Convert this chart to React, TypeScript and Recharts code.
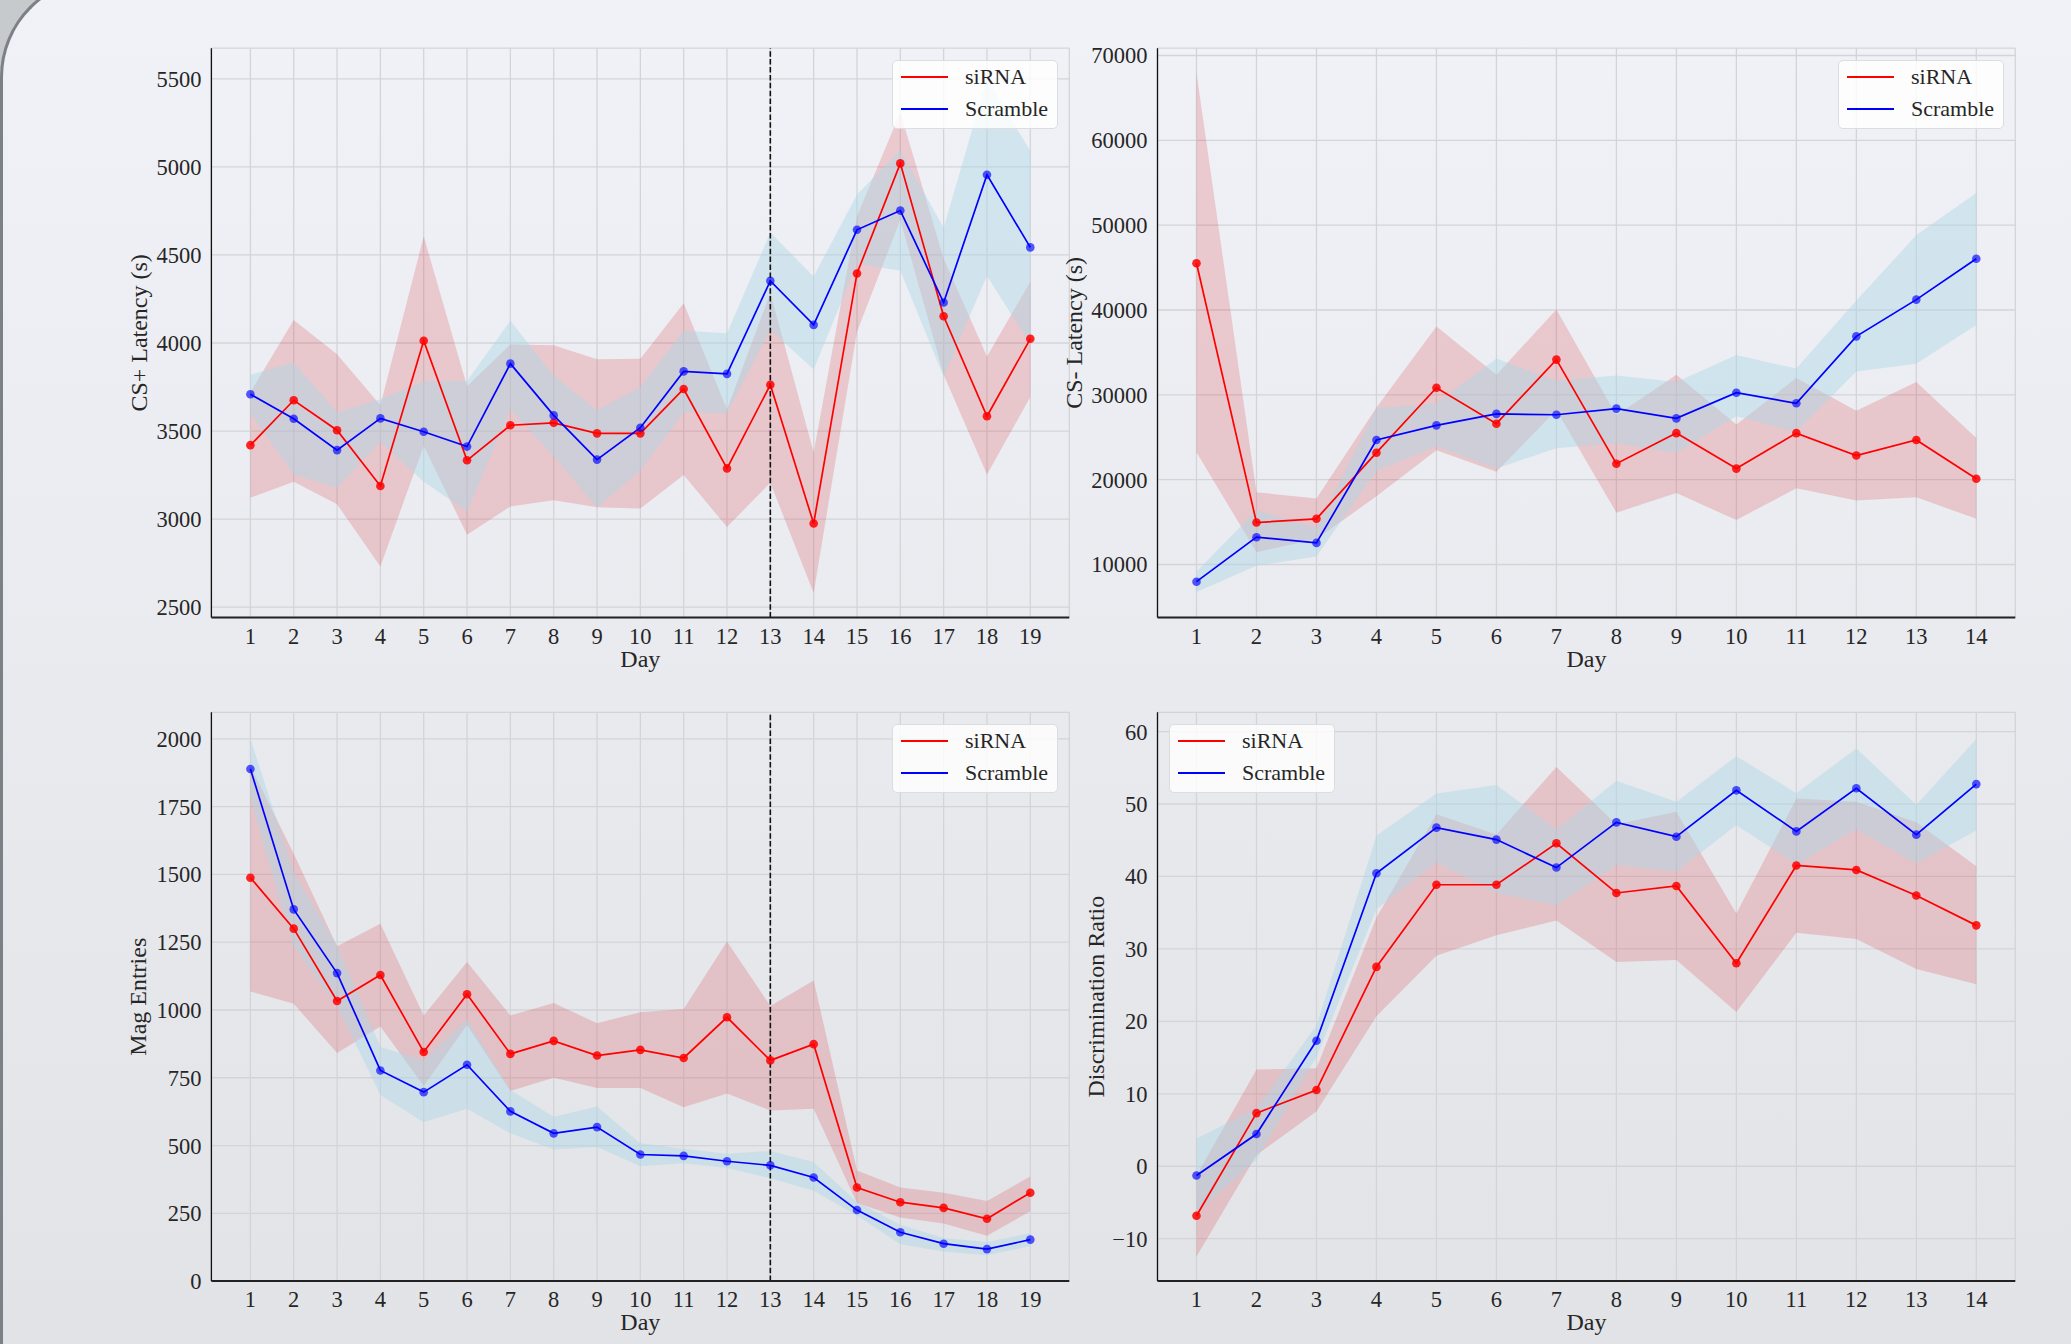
import React from 'react';
import { ComposedChart, Line, Area, XAxis, YAxis, CartesianGrid, ReferenceLine } from 'recharts';

const FONT = '"Liberation Serif", "Times New Roman", Times, serif';
const TXT = '#262626';

// ---------- Data ----------
const days19 = [1, 2, 3, 4, 5, 6, 7, 8, 9, 10, 11, 12, 13, 14, 15, 16, 17, 18, 19];
const days14 = [1, 2, 3, 4, 5, 6, 7, 8, 9, 10, 11, 12, 13, 14];

// CS+ Latency (s)
const csPlusSirnaMean = [3420, 3675, 3505, 3188, 4013, 3334, 3533, 3547, 3487, 3487, 3739, 3288, 3763, 2975, 4395, 5020, 4152, 3584, 4024];
const csPlusSirnaLo = [3121, 3213, 3084, 2731, 3415, 2912, 3072, 3107, 3067, 3060, 3250, 2956, 3206, 2581, 4064, 4700, 3820, 3253, 3693];
const csPlusSirnaHi = [3720, 4131, 3936, 3646, 4606, 3755, 3992, 3987, 3908, 3911, 4226, 3623, 4284, 3380, 4720, 5310, 4480, 3924, 4348];
const csPlusScrMean = [3709, 3570, 3392, 3572, 3496, 3412, 3883, 3589, 3338, 3519, 3839, 3825, 4353, 4103, 4643, 4752, 4230, 4955, 4543];
const csPlusScrLo = [3600, 3253, 3179, 3438, 3213, 3044, 3623, 3357, 3067, 3276, 3607, 3600, 4075, 3850, 4450, 4411, 3809, 4381, 3994];
const csPlusScrHi = [3820, 3890, 3607, 3681, 3783, 3785, 4126, 3816, 3619, 3751, 4070, 4056, 4627, 4378, 4844, 5095, 4655, 5500, 5090];

// CS- Latency (s)
const csMinusSirnaMean = [45507, 14951, 15384, 23179, 30830, 26596, 34151, 21880, 25489, 21303, 25489, 22842, 24671, 20102];
const csMinusSirnaLo = [23227, 11438, 13000, 18030, 23468, 20918, 28200, 16106, 18416, 15240, 18993, 17549, 17934, 15384];
const csMinusSirnaHi = [67979, 18512, 17790, 28519, 38048, 32370, 40070, 27600, 32370, 26500, 31985, 28136, 31504, 24912];
const csMinusScrMean = [7973, 13218, 12545, 24671, 26403, 27750, 27654, 28376, 27221, 30253, 29002, 36893, 41224, 46036];
const csMinusScrLo = [6770, 9850, 10956, 21062, 23948, 21303, 23709, 24286, 23131, 27462, 25634, 32755, 33670, 38240];
const csMinusScrHi = [9176, 16393, 14325, 28424, 29002, 34295, 31648, 32274, 31504, 34680, 33092, 41128, 48827, 53784];

// Mag Entries
const magSirnaMean = [1488, 1300, 1033, 1129, 845, 1058, 838, 886, 832, 853, 823, 973, 814, 874, 345, 291, 270, 230, 326];
const magSirnaLo = [1068, 1023, 841, 939, 720, 945, 701, 750, 712, 712, 641, 692, 629, 636, 288, 235, 212, 167, 258];
const magSirnaHi = [1900, 1576, 1235, 1318, 980, 1177, 980, 1026, 951, 992, 1004, 1253, 1015, 1109, 408, 345, 326, 295, 386];
const magScrMean = [1889, 1371, 1136, 777, 697, 798, 626, 545, 568, 467, 462, 442, 427, 382, 262, 180, 138, 118, 153];
const magScrLo = [1778, 1235, 1015, 686, 586, 636, 545, 485, 495, 424, 435, 417, 379, 333, 242, 136, 109, 95, 129];
const magScrHi = [2000, 1508, 1238, 864, 814, 965, 705, 606, 644, 508, 488, 470, 480, 439, 292, 208, 159, 144, 177];

// Discrimination Ratio
const drSirnaMean = [-6.83, 7.34, 10.52, 27.52, 38.86, 38.86, 44.58, 37.72, 38.69, 28.03, 41.52, 40.9, 37.38, 33.25];
const drSirnaLo = [-12.44, 1.56, 7.57, 20.72, 29.05, 31.88, 33.92, 28.2, 28.47, 21.28, 32.22, 31.37, 27.23, 25.13];
const drSirnaHi = [-1.3, 13.35, 13.52, 34.32, 48.6, 45.8, 55.12, 47.2, 48.94, 34.88, 50.75, 50.3, 47.47, 41.41];
const drScrMean = [-1.27, 4.45, 17.32, 40.44, 46.74, 45.09, 41.23, 47.47, 45.49, 51.89, 46.22, 52.18, 45.77, 52.75];
const drScrLo = [-6.4, 0.9, 15.1, 35.46, 41.97, 37.72, 36.02, 41.58, 40.67, 47.08, 41.7, 46.5, 41.8, 46.33];
const drScrHi = [3.83, 8.0, 19.42, 45.66, 51.44, 52.63, 46.5, 53.2, 50.3, 56.6, 51.5, 57.68, 49.9, 58.98];

// Tick labels
const ticksCsPlus = [2500, 3000, 3500, 4000, 4500, 5000, 5500];
const ticksCsMinus = [10000, 20000, 30000, 40000, 50000, 60000, 70000];
const ticksMag = [0, 250, 500, 750, 1000, 1250, 1500, 1750, 2000];
const ticksDr = [-10, 0, 10, 20, 30, 40, 50, 60];

const seriesNames = ['siRNA', 'Scramble'];

function buildRows(days: number[], sm: number[], sl: number[], sh: number[], cm: number[], cl: number[], ch: number[]) {
  return days.map((d, i) => ({
    day: d,
    sMean: sm[i],
    sBand: [sl[i], sh[i]],
    cMean: cm[i],
    cBand: [cl[i], ch[i]],
  }));
}

// ---------- Layout ----------
const COLS = [
  { divLeft: 0, plotL: 211.4, plotR: 1069.3 },
  { divLeft: 1030, plotL: 1157.5, plotR: 2015.3 },
];
const ROWS = [
  { divTop: 0, plotT: 48.2, plotB: 617.6 },
  { divTop: 680, plotT: 712.3, plotB: 1281.1 },
];

type PanelProps = {
  col: number;
  row: number;
  rows: any[];
  xDomain: [number, number];
  xTicks: number[];
  yDomain: [number, number];
  yTicks: number[];
  yLabel: string;
  yLabelX: number;
  vline?: number;
  legendLeft: number;
};

const fmt = (v: number) => (v < 0 ? '\u2212' + Math.abs(v) : String(v));

function Legend2({ left, top }: { left: number; top: number }) {
  const colors = ['#ff0000', '#0000ff'];
  const rowsY = [16, 48];
  return (
    <div
      style={{
        position: 'absolute',
        left: Math.round(left),
        top: Math.round(top),
        width: 166,
        height: 69,
        boxSizing: 'border-box',
        background: 'rgba(255,255,255,0.82)',
        border: '1px solid #dcdde0',
        borderRadius: 5,
        fontFamily: FONT,
        fontSize: 22,
        color: TXT,
      }}
    >
      {seriesNames.map((n, i) => (
        <React.Fragment key={n}>
          <div
            style={{
              position: 'absolute',
              left: 8,
              top: rowsY[i] - 1,
              width: 47,
              height: 2,
              background: colors[i],
            }}
          />
          <span
            style={{
              position: 'absolute',
              left: 72,
              top: rowsY[i] - 11,
              lineHeight: '22px',
              whiteSpace: 'nowrap',
            }}
          >
            {n}
          </span>
        </React.Fragment>
      ))}
    </div>
  );
}

function Panel(p: PanelProps) {
  const c = COLS[p.col];
  const r = ROWS[p.row];
  const rightM = 20;
  const xh = 60;
  const width = c.plotR - c.divLeft + rightM;
  const height = r.plotB - r.divTop + xh;
  const yw = c.plotL - c.divLeft;
  const mt = r.plotT - r.divTop;
  const plotCx = (c.plotL + c.plotR) / 2 - c.divLeft;
  const plotCy = (r.plotT + r.plotB) / 2 - r.divTop;
  const labX = p.yLabelX - c.divLeft;
  const dayY = r.plotB - r.divTop + 49;

  return (
    <div style={{ position: 'absolute', left: c.divLeft, top: r.divTop, width, height }}>
      <ComposedChart
        width={width}
        height={height}
        data={p.rows}
        margin={{ top: mt, right: rightM, bottom: 0, left: 0 }}
      >
        <CartesianGrid stroke="#d3d4d8" strokeWidth={1.3} />
        <XAxis
          dataKey="day"
          type="number"
          domain={p.xDomain}
          ticks={p.xTicks}
          interval={0}
          allowDataOverflow
          tickLine={false}
          tickSize={8}
          tickMargin={2}
          height={xh}
          axisLine={{ stroke: '#222', strokeWidth: 2 }}
          tick={{ fontSize: 22.5, fill: TXT, fontFamily: FONT }}
          label={{
            content: () => (
              <text x={plotCx} y={dayY} textAnchor="middle" fontSize={24} fill={TXT} fontFamily={FONT}>
                Day
              </text>
            ),
          }}
        />
        <YAxis
          type="number"
          domain={p.yDomain}
          ticks={p.yTicks}
          interval={0}
          allowDataOverflow
          width={yw}
          tickLine={false}
          tickSize={8}
          tickMargin={2}
          tickFormatter={fmt}
          axisLine={{ stroke: '#111', strokeWidth: 1.3 }}
          tick={{ fontSize: 22.5, fill: TXT, fontFamily: FONT }}
          label={{
            content: () => (
              <text
                x={labX}
                y={plotCy}
                textAnchor="middle"
                fontSize={24}
                fill={TXT}
                fontFamily={FONT}
                transform={`rotate(-90, ${labX}, ${plotCy})`}
              >
                {p.yLabel}
              </text>
            ),
          }}
        />
        <Area
          dataKey="sBand"
          type="linear"
          stroke="none"
          fill="#d62728"
          fillOpacity={0.19}
          isAnimationActive={false}
          dot={false}
          activeDot={false}
        />
        <Area
          dataKey="cBand"
          type="linear"
          stroke="none"
          fill="#add8e6"
          fillOpacity={0.45}
          isAnimationActive={false}
          dot={false}
          activeDot={false}
        />
        <Line
          dataKey="sMean"
          type="linear"
          stroke="#ff0000"
          strokeWidth={1.7}
          dot={{ r: 4.3, fill: '#ff0000', fillOpacity: 0.85, stroke: 'none' }}
          activeDot={false}
          isAnimationActive={false}
        />
        <Line
          dataKey="cMean"
          type="linear"
          stroke="#0000ff"
          strokeWidth={1.7}
          dot={{ r: 4.3, fill: '#0000ff', fillOpacity: 0.65, stroke: 'none' }}
          activeDot={false}
          isAnimationActive={false}
        />
        {p.vline !== undefined && (
          <ReferenceLine x={p.vline} stroke="#111" strokeWidth={1.6} strokeDasharray="5.5 2.4" />
        )}
      </ComposedChart>
      <Legend2 left={p.legendLeft - c.divLeft} top={r.plotT - r.divTop + 12.2} />
    </div>
  );
}

export default function App() {
  const rows1 = buildRows(days19, csPlusSirnaMean, csPlusSirnaLo, csPlusSirnaHi, csPlusScrMean, csPlusScrLo, csPlusScrHi);
  const rows2 = buildRows(days14, csMinusSirnaMean, csMinusSirnaLo, csMinusSirnaHi, csMinusScrMean, csMinusScrLo, csMinusScrHi);
  const rows3 = buildRows(days19, magSirnaMean, magSirnaLo, magSirnaHi, magScrMean, magScrLo, magScrHi);
  const rows4 = buildRows(days14, drSirnaMean, drSirnaLo, drSirnaHi, drScrMean, drScrLo, drScrHi);

  return (
    <div
      style={{
        position: 'absolute',
        left: 0,
        top: 0,
        width: 2071,
        height: 1344,
        overflow: 'hidden',
        background: '#c7cacd',
      }}
    >
      <div
        style={{
          position: 'absolute',
          left: 0,
          top: -23,
          width: 2400,
          height: 1500,
          boxSizing: 'border-box',
          borderLeft: '3px solid #7c8087',
          borderTop: '3px solid #7c8087',
          borderTopLeftRadius: 100,
          background: 'linear-gradient(180deg, #f1f2f7 23px, #e2e3e7 1367px, #e2e3e7 1500px)',
        }}
      />
      <Panel
        col={0}
        row={0}
        rows={rows1}
        xDomain={[0.1, 19.9]}
        xTicks={days19}
        yDomain={[2441, 5674]}
        yTicks={ticksCsPlus}
        yLabel="CS+ Latency (s)"
        yLabelX={146.8}
        vline={13}
        legendLeft={892}
      />
      <Panel
        col={1}
        row={0}
        rows={rows2}
        xDomain={[0.35, 14.65]}
        xTicks={days14}
        yDomain={[3740, 70860]}
        yTicks={ticksCsMinus}
        yLabel="CS- Latency (s)"
        yLabelX={1082.3}
        legendLeft={1838}
      />
      <Panel
        col={0}
        row={1}
        rows={rows3}
        xDomain={[0.1, 19.9]}
        xTicks={days19}
        yDomain={[0, 2098]}
        yTicks={ticksMag}
        yLabel="Mag Entries"
        yLabelX={146.2}
        vline={13}
        legendLeft={892}
      />
      <Panel
        col={1}
        row={1}
        rows={rows4}
        xDomain={[0.35, 14.65]}
        xTicks={days14}
        yDomain={[-15.85, 62.66]}
        yTicks={ticksDr}
        yLabel="Discrimination Ratio"
        yLabelX={1104}
        legendLeft={1169}
      />
    </div>
  );
}
